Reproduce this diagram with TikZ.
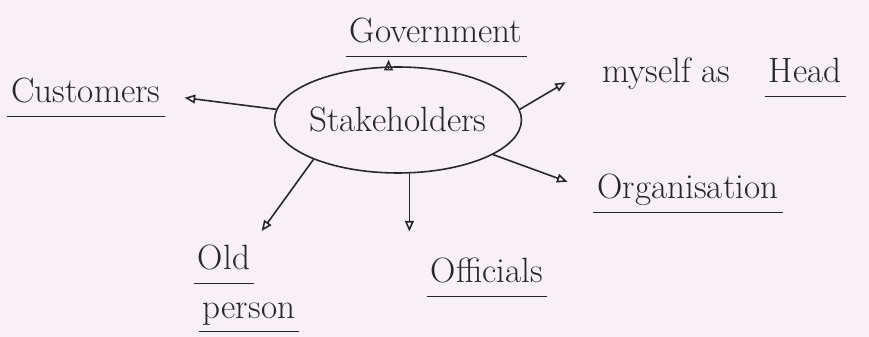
\documentclass[tikz,border=0pt]{standalone}
\usepackage{fontspec}
\usetikzlibrary{positioning,shapes.geometric,arrows.meta}
\definecolor{ink}{RGB}{40,38,42}
\definecolor{paper}{RGB}{247,241,246}

\begin{document}
\begin{tikzpicture}[x=0.02cm, y=-0.02cm, line width=0.9pt, color=ink,
  every node/.style={font=\fontsize{20}{24}\selectfont},
  lbl/.style={inner sep=2pt, text depth=0.18cm},
  >={Triangle[open,length=6pt,width=5pt]}]
\fill[paper] (0,0) rectangle (869,337);

\node[ellipse, draw, minimum width=4.94cm, minimum height=2.12cm,
  label={center:Stakeholders}] (stake) at (398,120) {};

\node[lbl, anchor=base] (cust) at (86,103) {Customers};
\node[lbl, anchor=base] (gov) at (436,43) {Government};
\node[lbl, anchor=base west] (self) at (598,83) {myself as};
\node[lbl, base right=0.6cm of self] (head) {Head};
\node[lbl, anchor=base] (org) at (688,199) {Organisation};
\node[lbl, anchor=base] (old) at (224,270) {Old};
\node[lbl, below=0.3cm of old, xshift=0.5cm] (person) {person};
\node[lbl, anchor=base] (offi) at (487,283) {Officials};

% underlined labels
\foreach \n in {cust,gov,head,org,old,person,offi}
  \draw (\n.south west) -- (\n.south east);

\draw[->, shorten >=0.4cm] (stake.175) -- (cust.east);
\draw[->, shorten >=2pt] (stake.100) -- (stake.100 |- gov.south);
\draw[->, shorten >=0.75cm] (stake.5) -- (self.170);
\draw[->, shorten >=0.55cm] (stake.-20) -- (org.west);
\draw[->, shorten >=0.25cm] (stake.205) -- (old.north east);
\draw[->, shorten >=0.45cm] (stake.-78) -- (stake.-78 |- offi.north);
\end{tikzpicture}
\end{document}
